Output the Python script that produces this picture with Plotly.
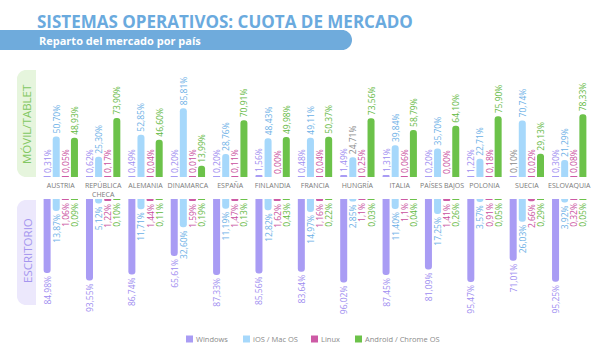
import math
import plotly.graph_objects as go

# ---------------- data ----------------
countries = ["AUSTRIA", "REPÚBLICA<br>CHECA", "ALEMANIA", "DINAMARCA", "ESPAÑA",
             "FINLANDIA", "FRANCIA", "HUNGRÍA", "ITALIA", "PAÍSES BAJOS",
             "POLONIA", "SUECIA", "ESLOVAQUIA"]
os_names = ["Windows", "iOS / Mac OS", "Linux", "Android / Chrome OS"]

movil_windows = ["0,31", "0,62", "0,49", "0,20", "0,20", "1,56", "0,48", "1,49", "1,31", "0,20", "1,22", "0,10", "0,30"]
movil_ios     = ["50,70", "25,30", "52,85", "85,81", "28,76", "48,43", "49,11", "24,71", "39,84", "35,70", "22,71", "70,74", "21,29"]
movil_linux   = ["0,05", "0,17", "0,04", "0,01", "0,11", "0,00", "0,04", "0,25", "0,06", "0,00", "0,18", "0,02", "0,08"]
movil_android = ["48,93", "73,90", "46,60", "13,99", "70,91", "49,98", "50,37", "73,56", "58,79", "64,10", "75,90", "29,13", "78,33"]

escr_windows = ["84,98", "93,55", "86,74", "65,61", "87,33", "85,56", "83,64", "96,02", "87,45", "81,09", "95,47", "71,01", "95,25"]
escr_ios     = ["13,87", "5,12", "11,71", "32,60", "11,19", "12,82", "14,97", "2,85", "11,40", "17,25", "3,57", "26,03", "3,92"]
escr_linux   = ["1,06", "1,22", "1,44", "1,59", "1,47", "1,62", "1,16", "1,1", "1,1", "1,41", "0,91", "2,66", "0,32"]
escr_android = ["0,09", "0,10", "0,11", "0,19", "0,13", "0,43", "0,22", "0,03", "0,04", "0,26", "0,05", "0,29", "0,05"]

movil_series = [movil_windows, movil_ios, movil_linux, movil_android]
escr_series = [escr_windows, escr_ios, escr_linux, escr_android]

# ---------------- styles ----------------
W, H = 600, 351
FONT = "Open Sans"
bar_colors = ["#a99cf4", "#a6d8fb", "#cd5aa5", "#6cc24a"]
text_colors = ["#9d8cf0", "#6aafe6", "#c94f9e", "#5fb83e"]
gray_labels = {("movil", 1, 7), ("movil", 0, 11)}  # labels printed in gray in the original


def px(x):
    return x / W


def py(y):
    return 1 - y / H


def rounded_path(x0, y0, x1, y1, rl=0, rr=0, n=10):
    pts = []
    if rr:
        pts.append((x1 - rr, y0))
        cx, cy = x1 - rr, y0 + rr
        for k in range(n + 1):
            a = -math.pi / 2 + k * (math.pi / 2) / n
            pts.append((cx + rr * math.cos(a), cy + rr * math.sin(a)))
        cx, cy = x1 - rr, y1 - rr
        for k in range(n + 1):
            a = k * (math.pi / 2) / n
            pts.append((cx + rr * math.cos(a), cy + rr * math.sin(a)))
    else:
        pts += [(x1, y0), (x1, y1)]
    if rl:
        cx, cy = x0 + rl, y1 - rl
        for k in range(n + 1):
            a = math.pi / 2 + k * (math.pi / 2) / n
            pts.append((cx + rl * math.cos(a), cy + rl * math.sin(a)))
        cx, cy = x0 + rl, y0 + rl
        for k in range(n + 1):
            a = math.pi + k * (math.pi / 2) / n
            pts.append((cx + rl * math.cos(a), cy + rl * math.sin(a)))
    else:
        pts += [(x0, y1), (x0, y0)]
    return "M " + " L ".join(f"{px(a):.5f},{py(b):.5f}" for a, b in pts) + " Z"


def to_float(s):
    return float(s.replace(",", "."))


fig = go.Figure()

for panel, series, xa, ya in (("movil", movil_series, "x", "y"), ("escr", escr_series, "x2", "y2")):
    for i, vals in enumerate(series):
        tcols = ["#8a8a8a" if (panel, i, j) in gray_labels else text_colors[i] for j in range(len(vals))]
        fig.add_trace(go.Bar(
            x=countries, y=[to_float(v) for v in vals],
            text=[v + "%" for v in vals],
            name=os_names[i],
            marker=dict(color=bar_colors[i], line=dict(width=0)),
            textposition="outside", textangle=-90, constraintext="none",
            cliponaxis=False,
            textfont=dict(size=8.5, color=tcols, family=FONT),
            xaxis=xa, yaxis=ya, showlegend=False, hoverinfo="skip",
        ))

x_dom = [px(39.6), px(590.4)]
top_base, top_top = 177, 62
bot_top, bot_bot = 199, 310
top_scale, bot_scale = 0.80, 0.87

shapes = [
    dict(type="path", xref="paper", yref="paper", path=rounded_path(-5, 30, 352, 50, rl=0, rr=10),
         fillcolor="#6fabdc", line=dict(width=0), layer="below"),
    dict(type="path", xref="paper", yref="paper", path=rounded_path(17, 70, 36, 177, rl=9, rr=0),
         fillcolor="#e6f5dd", line=dict(width=0), layer="below"),
    dict(type="path", xref="paper", yref="paper", path=rounded_path(17, 200, 36, 305, rl=9, rr=0),
         fillcolor="#ece8fc", line=dict(width=0), layer="below"),
]

annotations = [
    dict(text="Reparto del mercado por país", xref="paper", yref="paper", x=px(37), y=py(40.5),
         xanchor="left", yanchor="middle", showarrow=False,
         font=dict(family=FONT, size=11, color="white", weight=700)),
    dict(text="MÓVIL/TABLET", xref="paper", yref="paper", x=px(27), y=py(124),
         xanchor="center", yanchor="middle", textangle=-90, showarrow=False,
         font=dict(family=FONT, size=11.5, color="#82c762")),
    dict(text="ESCRITORIO", xref="paper", yref="paper", x=px(27), y=py(251),
         xanchor="center", yanchor="middle", textangle=-90, showarrow=False,
         font=dict(family=FONT, size=11.5, color="#a596ef")),
]

legend_x = [186, 243, 311, 355]
for i, name in enumerate(os_names):
    sx = legend_x[i]
    shapes.append(dict(type="rect", xref="paper", yref="paper",
                       x0=px(sx), x1=px(sx + 7), y0=py(342.5), y1=py(335.5),
                       fillcolor=bar_colors[i], line=dict(width=0)))
    annotations.append(dict(text=name, xref="paper", yref="paper", x=px(sx + 8), y=py(339),
                            xanchor="left", yanchor="middle", showarrow=False,
                            font=dict(family=FONT, size=7.5, color="#8a8a8a")))

fig.update_layout(
    width=W, height=H,
    margin=dict(l=0, r=0, t=0, b=0),
    paper_bgcolor="white", plot_bgcolor="rgba(0,0,0,0)",
    barmode="group", bargap=0.14, bargroupgap=0.23,
    barcornerradius="50%",
    showlegend=False,
    font=dict(family=FONT),
    title=dict(text="SISTEMAS OPERATIVOS: CUOTA DE MERCADO", x=px(37), xanchor="left",
               y=py(22), yanchor="middle", yref="container",
               font=dict(family=FONT, size=17, color="#6aaade", weight=700)),
    xaxis=dict(domain=x_dom, anchor="y", showgrid=False, zeroline=False, showline=False,
               ticks="", ticklabelstandoff=3, tickfont=dict(size=7, color="#7a7a7a", family=FONT)),
    xaxis2=dict(domain=x_dom, anchor="y2", matches="x", showgrid=False, zeroline=False,
                showline=False, showticklabels=False, ticks=""),
    yaxis=dict(domain=[py(top_base), py(top_top)], range=[0, (top_base - top_top) / top_scale],
               autorange=False, visible=False, fixedrange=True),
    yaxis2=dict(domain=[py(bot_bot), py(bot_top)], range=[(bot_bot - bot_top) / bot_scale, 0],
                autorange=False, visible=False, fixedrange=True),
    shapes=shapes,
    annotations=annotations,
)

fig.write_html("out.html")
